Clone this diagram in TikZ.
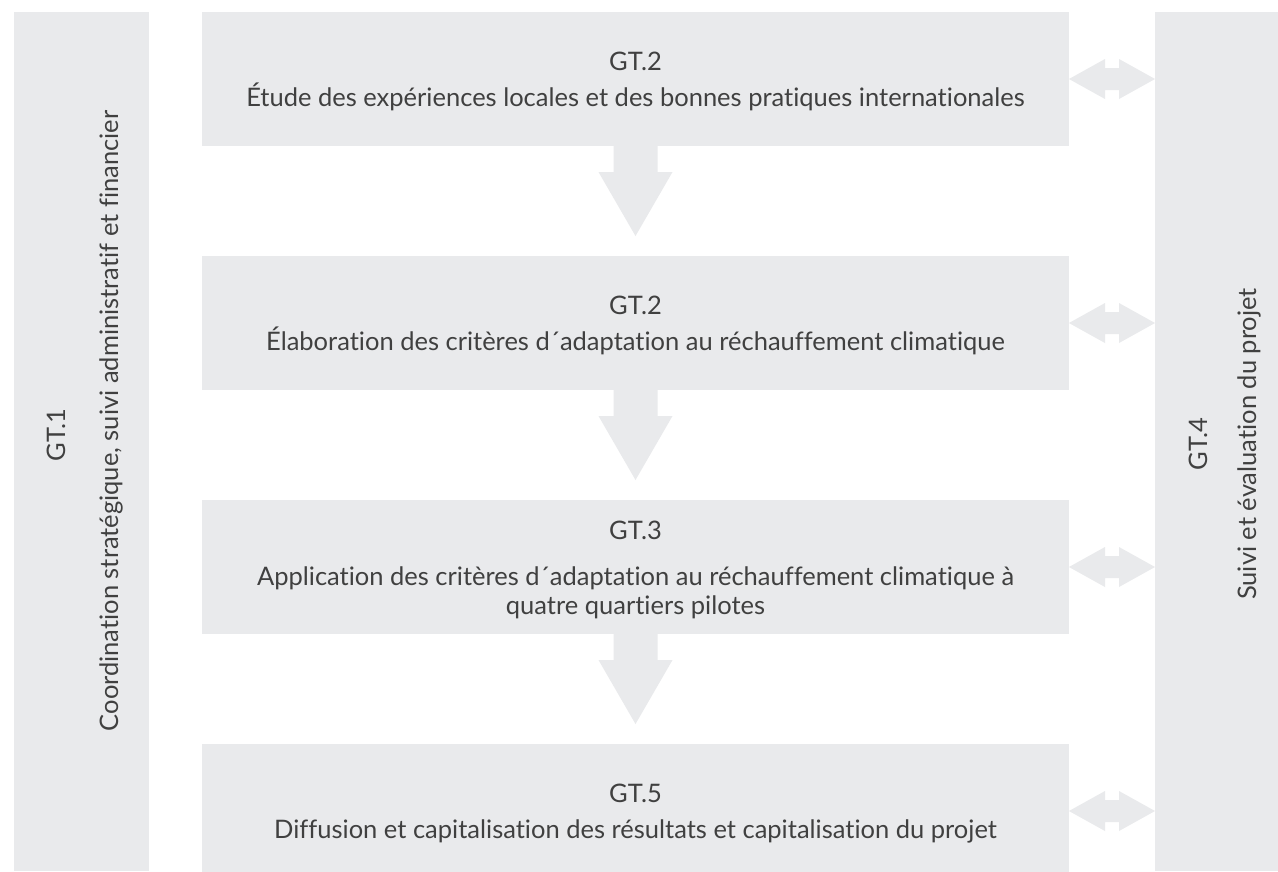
\documentclass[tikz,border=0pt]{standalone}
\usepackage{fontspec}
\setmainfont{Lato}[Ligatures=NoCommon]
\usetikzlibrary{calc}
\definecolor{boxgray}{HTML}{E9EAEC}
\definecolor{txtgray}{HTML}{404040}
\tikzset{
  panel/.style={fill=boxgray, draw=none, inner sep=0pt, outer sep=0pt},
  arrowfill/.style={fill=boxgray, draw=none},
  label/.style={text=txtgray, font=\fontsize{25.5}{30}\selectfont, inner sep=0pt, anchor=base},
  vlabel/.style={label, rotate=90}
}
\newcommand\hdarrow[2]{%
  \fill[arrowfill] (#1) -- ($(#1)+(36,-20)$) -- ($(#1)+(36,-11)$) -- ($(#2)+(-36,-11)$) -- ($(#2)+(-36,-20)$) -- (#2) -- ($(#2)+(-36,20)$) -- ($(#2)+(-36,11)$) -- ($(#1)+(36,11)$) -- ($(#1)+(36,20)$) -- cycle;}
\newcommand\vdarrow[2]{%
  \fill[arrowfill] ($(#1)+(-22,0)$) -- ($(#1)+(22,0)$) -- ($(#1)+(22,26)$) -- ($(#1)+(37,26)$) -- ($(#2)+(0,-20)$) -- ($(#1)+(-37,26)$) -- ($(#1)+(-22,26)$) -- cycle;}
\begin{document}
\begin{tikzpicture}[x=1pt,y=-1pt]
\clip (0,0) rectangle (1278,871);
\fill[white] (0,0) rectangle (1278,871);
% side bars
\node[panel, minimum width=135pt, minimum height=859pt] (gt1) at (81.5,441.5) {};
\node[panel, minimum width=123pt, minimum height=859pt] (gt4) at (1216.5,441.5) {};
% boxes
\node[panel, minimum width=867pt, minimum height=134pt] (b1) at (635.5,79) {};
\node[panel, minimum width=867pt, minimum height=134pt] (b2) at (635.5,323) {};
\node[panel, minimum width=867pt, minimum height=134pt] (b3) at (635.5,567) {};
\node[panel, minimum width=867pt, minimum height=134pt] (b4) at (635.5,811) {};
% down arrows
\vdarrow{b1.south}{b2.north}
\vdarrow{b2.south}{b3.north}
\vdarrow{b3.south}{b4.north}
% double arrows
\coordinate (r1) at (gt4.west |- b1.east);
\coordinate (r2) at (gt4.west |- b2.east);
\coordinate (r3) at (gt4.west |- b3.east);
\coordinate (r4) at (gt4.west |- b4.east);
\hdarrow{b1.east}{r1}
\hdarrow{b2.east}{r2}
\hdarrow{b3.east}{r3}
\hdarrow{b4.east}{r4}
% texts
\node[label] (t1a) at (635.5,70) {GT.2};
\node[label] (t1b) at (635.5,106) {Étude des expériences locales et des bonnes pratiques internationales};
\node[label] (t2a) at (635.5,314) {GT.2};
\node[label] (t2b) at (635.5,350) {Élaboration des critères d´adaptation au réchauffement climatique};
\node[label] (t3a) at (635.5,539) {GT.3};
\node[label] (t3b) at (635.5,585) {Application des critères d´adaptation au réchauffement climatique à};
\node[label] (t3c) at (635.5,614) {quatre quartiers pilotes};
\node[label] (t4a) at (635.5,802) {GT.5};
\node[label] (t4b) at (635.5,838) {Diffusion et capitalisation des résultats et capitalisation du projet};
\node[vlabel] (s1a) at (65,435) {GT.1};
\node[vlabel] (s1b) at (118,421) {Coordination stratégique, suivi administratif et financier};
\node[vlabel] (s4a) at (1207,444) {GT.4};
\node[vlabel] (s4b) at (1256,444) {Suivi et évaluation du projet};
\end{tikzpicture}
\end{document}
